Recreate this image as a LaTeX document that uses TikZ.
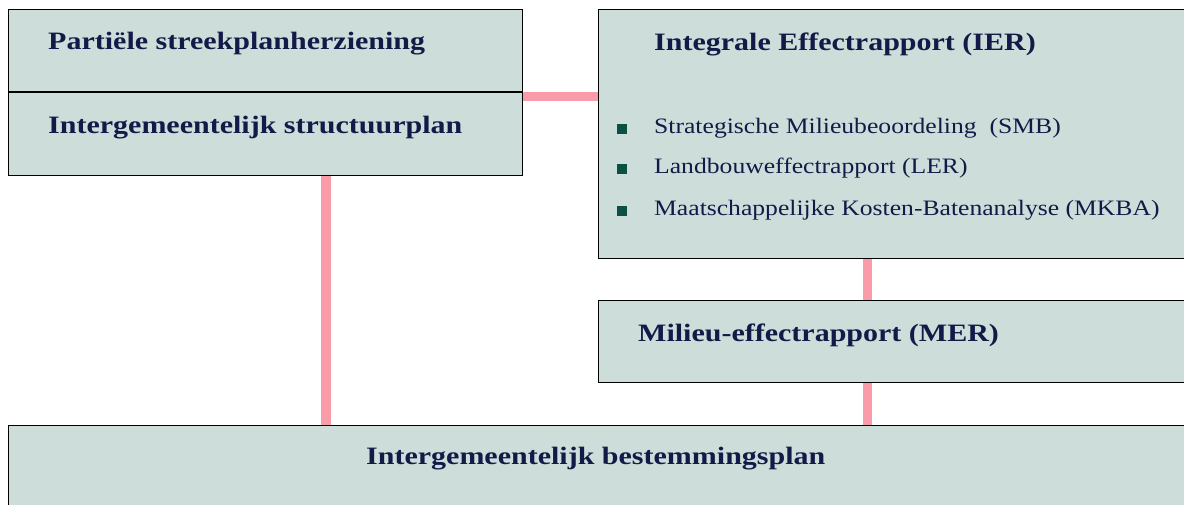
\documentclass[tikz,border=0pt]{standalone}
\usepackage{fontspec}
\setmainfont{Liberation Serif}
\newfontfamily\headfont[FakeStretch=1.2]{Liberation Serif}
\newfontfamily\itemfont[FakeStretch=1.165]{Liberation Serif}
\usetikzlibrary{backgrounds}
\definecolor{boxfill}{HTML}{CDDDDA}
\definecolor{pinkline}{HTML}{F99BA8}
\definecolor{navy}{HTML}{141A48}
\definecolor{bulletgreen}{HTML}{0C5044}
\tikzset{
  box/.style={draw=black, line width=1.4pt, fill=boxfill, rectangle, anchor=north west, inner sep=0pt},
  conn/.style={draw=pinkline, line width=9.5pt},
  head/.style={anchor=west, text=navy, font=\headfont\fontsize{25}{29}\selectfont\bfseries, inner sep=0pt},
  item/.style={anchor=west, text=navy, font=\itemfont\fontsize{22}{26}\selectfont, inner sep=0pt},
  bul/.style={fill=bulletgreen, minimum size=10pt, inner sep=0pt, rectangle}
}
\begin{document}
\begin{tikzpicture}[x=1pt,y=-1pt]
\useasboundingbox (0,0) rectangle (1184,504);
\clip (0,0) rectangle (1184,504);
% boxes
\node[box, minimum width=514pt, minimum height=82pt] (A) at (8,9) {};
\node[box, minimum width=514pt, minimum height=83pt] (B) at (8,92) {};
\node[box, minimum width=600pt, minimum height=249pt] (IER) at (598,9) {};
\node[box, minimum width=600pt, minimum height=82pt] (MER) at (598,300) {};
\node[box, minimum width=1190pt, minimum height=100pt] (BP) at (8,425) {};
% connectors
\begin{scope}[on background layer]
\coordinate (h) at ([yshift=-4.5pt]B.north east);
\draw[conn] (h) -- (h -| IER.west);
\coordinate (v1) at ([xshift=60.5pt]B.south);
\draw[conn] (v1) -- (v1 |- BP.north);
\coordinate (v2) at ([xshift=-31pt]IER.south);
\draw[conn] (v2) -- (v2 |- MER.north);
\coordinate (v3) at (v2 |- MER.south);
\draw[conn] (v3) -- (v3 |- BP.north);
\end{scope}
% texts
\node[head] (tA) at (48,44) {Partiële streekplanherziening};
\node[head] (tB) at (48,128) {Intergemeentelijk structuurplan};
\node[head] (tI) at (654,44) {Integrale Effectrapport (IER)};
\node[bul] (b1) at (622,129) {};
\node[item] (i1) at (654,128) {Strategische Milieubeoordeling\hspace{13pt}(SMB)};
\node[bul] (b2) at (622,169) {};
\node[item] (i2) at (654,168) {Landbouweffectrapport (LER)};
\node[bul] (b3) at (622,211) {};
\node[item] (i3) at (654,210) {Maatschappelijke Kosten-Batenanalyse (MKBA)};
\node[head] (tM) at (638,335) {Milieu-effectrapport (MER)};
\node[head] (tP) at (366,459) {Intergemeentelijk bestemmingsplan};
\end{tikzpicture}
\end{document}
